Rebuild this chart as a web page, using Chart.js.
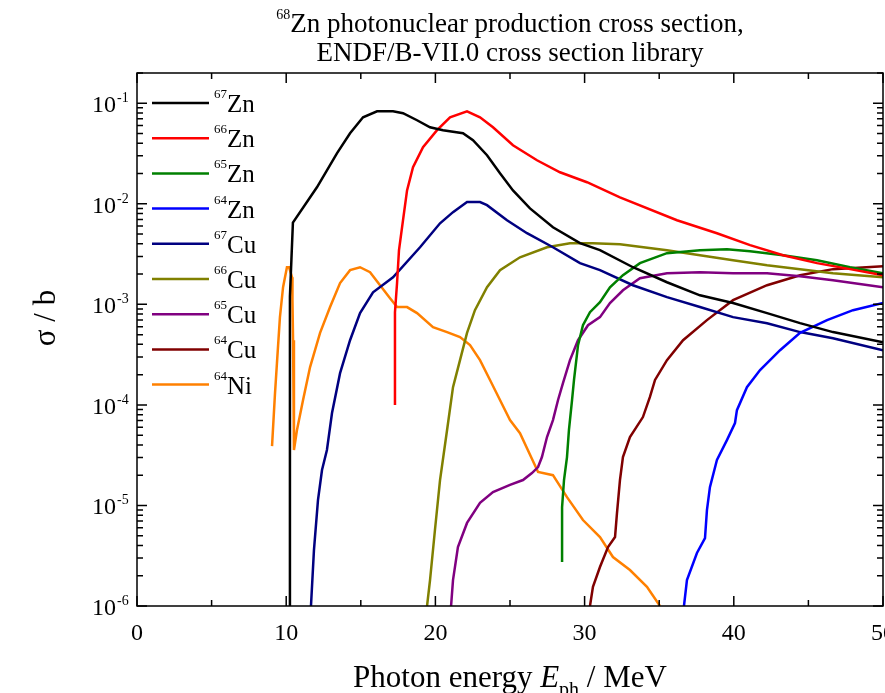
<!DOCTYPE html>
<html>
<head>
<meta charset="utf-8">
<title>68Zn photonuclear production cross section</title>
<script src="https://cdn.jsdelivr.net/npm/chart.js@4.4.0/dist/chart.umd.min.js"></script>
<style>
  html, body { margin: 0; padding: 0; background: #fff; overflow: hidden; }
</style>
</head>
<body>
<canvas id="xsChart" width="885" height="693"></canvas>
<script>
// photon energy (MeV) and cross section (b)
const zn67E = [10.2, 10.25, 10.35, 10.45, 12.06, 13.40, 14.28, 15.15, 16.09, 17.16, 17.83, 18.77, 19.64, 20.51, 21.85, 22.52, 23.46, 24.33, 25.20, 26.34, 27.88, 29.69, 31.03, 33.24, 35.52, 37.73, 39.95, 42.23, 44.44, 46.65, 50.0];
const zn67S = [1e-6, 1.2e-3, 2.8e-3, 6.5e-3, 0.0146, 0.0318, 0.0503, 0.0726, 0.0832, 0.0832, 0.0796, 0.0678, 0.0577, 0.0539, 0.0503, 0.0429, 0.0304, 0.0201, 0.0136, 9.0e-3, 5.85e-3, 4.06e-3, 3.46e-3, 2.34e-3, 1.66e-3, 1.23e-3, 1.03e-3, 8.18e-4, 6.5e-4, 5.3e-4, 4.2e-4];

const zn66E = [17.29, 17.29, 17.43, 17.56, 17.83, 18.10, 18.50, 19.17, 20.11, 20.98, 22.12, 22.99, 23.86, 25.20, 26.81, 28.35, 30.16, 32.37, 36.19, 38.87, 41.09, 43.30, 45.58, 47.79, 50.0];
const zn66S = [1e-4, 8.35e-4, 1.63e-3, 3.47e-3, 6.87e-3, 0.0136, 0.0231, 0.0366, 0.054, 0.0726, 0.0832, 0.0726, 0.0577, 0.0382, 0.0271, 0.0206, 0.0164, 0.0116, 6.87e-3, 5.1e-3, 3.88e-3, 3.08e-3, 2.57e-3, 2.24e-3, 1.95e-3];

const zn65E = [28.49, 28.49, 28.62, 28.82, 28.95, 29.16, 29.29, 29.56, 29.89, 30.36, 31.03, 31.70, 32.57, 33.71, 35.52, 37.73, 39.54, 41.09, 43.30, 45.58, 47.79, 50.0];
const zn65S = [2.74e-6, 9.6e-6, 1.79e-5, 3.03e-5, 5.6e-5, 1.12e-4, 1.77e-4, 3.93e-4, 6.2e-4, 8.35e-4, 1.05e-3, 1.48e-3, 1.95e-3, 2.57e-3, 3.23e-3, 3.46e-3, 3.54e-3, 3.38e-3, 3.08e-3, 2.75e-3, 2.34e-3, 2.04e-3];

const zn64E = [36.66, 36.86, 37.53, 38.07, 38.20, 38.40, 38.87, 39.54, 40.08, 40.21, 40.88, 41.76, 43.10, 44.44, 46.25, 47.99, 50.0];
const zn64S = [1e-6, 1.81e-6, 3.37e-6, 4.74e-6, 9e-6, 1.52e-5, 2.83e-5, 4.47e-5, 6.6e-5, 8.87e-5, 1.5e-4, 2.22e-4, 3.5e-4, 5.2e-4, 6.97e-4, 8.75e-4, 1.03e-3];

const cu67E = [11.66, 11.86, 12.13, 12.40, 12.73, 13.07, 13.61, 14.28, 14.95, 15.82, 17.16, 18.97, 20.31, 21.18, 22.12, 22.99, 23.46, 24.80, 26.14, 27.88, 29.69, 31.03, 33.24, 35.52, 37.73, 39.95, 42.23, 44.44, 46.65, 50.0];
const cu67S = [1e-6, 3.6e-6, 1.13e-5, 2.25e-5, 3.56e-5, 8.3e-5, 2.07e-4, 4.4e-4, 8.18e-4, 1.32e-3, 1.86e-3, 3.7e-3, 6.4e-3, 8.26e-3, 0.0104, 0.0104, 9.7e-3, 6.87e-3, 5.1e-3, 3.7e-3, 2.57e-3, 2.19e-3, 1.55e-3, 1.18e-3, 9.4e-4, 7.46e-4, 6.5e-4, 5.3e-4, 4.6e-4, 3.5e-4];

const cu66E = [19.44, 19.64, 19.97, 20.31, 20.78, 21.18, 21.65, 22.12, 22.65, 23.46, 24.33, 25.67, 27.48, 29.02, 30.56, 32.37, 35.52, 37.73, 39.95, 42.23, 44.44, 46.65, 50.0];
const cu66S = [1e-6, 1.81e-6, 5.7e-6, 1.79e-5, 5.6e-5, 1.5e-4, 2.79e-4, 5.2e-4, 8.75e-4, 1.48e-3, 2.19e-3, 2.94e-3, 3.7e-3, 4.06e-3, 4.06e-3, 3.96e-3, 3.46e-3, 3.08e-3, 2.75e-3, 2.45e-3, 2.24e-3, 2.04e-3, 1.86e-3];

const cu65E = [21.05, 21.18, 21.51, 22.12, 22.99, 23.86, 25.00, 25.87, 26.47, 26.88, 27.14, 27.48, 27.88, 28.22, 28.55, 29.02, 29.56, 30.23, 31.03, 31.70, 32.57, 33.71, 35.52, 37.73, 39.95, 42.23, 44.44, 46.65, 50.0];
const cu65S = [1e-6, 1.81e-6, 3.85e-6, 6.7e-6, 1.06e-5, 1.36e-5, 1.6e-5, 1.79e-5, 2.1e-5, 2.41e-5, 3.03e-5, 4.79e-5, 7.06e-5, 1.12e-4, 1.65e-4, 2.79e-4, 4.4e-4, 6.2e-4, 7.46e-4, 1.03e-3, 1.38e-3, 1.82e-3, 2.04e-3, 2.09e-3, 2.04e-3, 2.04e-3, 1.9e-3, 1.74e-3, 1.48e-3];

const cu64E = [30.36, 30.56, 31.03, 31.57, 32.04, 32.17, 32.37, 32.57, 33.04, 33.91, 34.38, 34.72, 35.52, 36.60, 38.20, 39.95, 42.23, 44.44, 46.65, 50.0];
const cu64S = [1e-6, 1.55e-6, 2.44e-6, 3.86e-6, 4.85e-6, 8.4e-6, 1.79e-5, 3.03e-5, 4.79e-5, 7.57e-5, 1.2e-4, 1.77e-4, 2.79e-4, 4.4e-4, 6.97e-4, 1.1e-3, 1.55e-3, 1.95e-3, 2.24e-3, 2.4e-3];

const ni64E = [9.05, 9.25, 9.38, 9.58, 9.79, 10.05, 10.19, 10.39, 10.42, 10.46, 10.52, 10.72, 11.13, 11.60, 12.27, 12.94, 13.61, 14.28, 14.95, 15.62, 16.29, 16.96, 17.43, 18.10, 18.77, 19.84, 20.78, 21.65, 22.32, 22.99, 23.66, 25.00, 25.67, 26.88, 27.88, 28.82, 29.89, 31.03, 31.90, 33.04, 34.18, 35.05];
const ni64S = [3.89e-5, 1.31e-4, 2.6e-4, 7.46e-4, 1.48e-3, 2.34e-3, 2.34e-3, 1.86e-3, 1.1e-3, 4.4e-4, 3.56e-5, 5.6e-5, 1.12e-4, 2.38e-4, 5.2e-4, 9.4e-4, 1.63e-3, 2.19e-3, 2.34e-3, 2.09e-3, 1.55e-3, 1.15e-3, 9.4e-4, 9.4e-4, 8.18e-4, 5.93e-4, 5.3e-4, 4.72e-4, 3.93e-4, 2.79e-4, 1.77e-4, 7.06e-5, 5.24e-5, 2.15e-5, 2.0e-5, 1.21e-5, 7.16e-6, 4.85e-6, 3.07e-6, 2.28e-6, 1.55e-6, 1e-6];

// legend entries
const massNumbers = ['67', '66', '65', '64', '67', '66', '65', '64', '64'];
const elements = ['Zn', 'Zn', 'Zn', 'Zn', 'Cu', 'Cu', 'Cu', 'Cu', 'Ni'];
const colors = ['#000000', '#ff0000', '#008000', '#0000ff', '#000080', '#808000', '#800080', '#800000', '#ff8000'];
const energies = [zn67E, zn66E, zn65E, zn64E, cu67E, cu66E, cu65E, cu64E, ni64E];
const sigmas = [zn67S, zn66S, zn65S, zn64S, cu67S, cu66S, cu65S, cu64S, ni64S];

// axis ticks
const xMajor = [0, 10, 20, 30, 40, 50];
const xMinor = [5, 15, 25, 35, 45];
const yPowers = [-6, -5, -4, -3, -2, -1];

const serif = "'Liberation Serif', 'Times New Roman', serif";

function drawTicks(chart) {
  const ctx = chart.ctx;
  const { left, right, top, bottom } = chart.chartArea;
  const xs = chart.scales.x;
  const ys = chart.scales.y;

  ctx.strokeStyle = '#000';
  ctx.lineWidth = 1.5;
  ctx.strokeRect(left, top, right - left, bottom - top);

  ctx.beginPath();
  xMajor.forEach(v => {
    const px = xs.getPixelForValue(v);
    ctx.moveTo(px, bottom); ctx.lineTo(px, bottom - 10);
    ctx.moveTo(px, top); ctx.lineTo(px, top + 10);
  });
  xMinor.forEach(v => {
    const px = xs.getPixelForValue(v);
    ctx.moveTo(px, bottom); ctx.lineTo(px, bottom - 6);
    ctx.moveTo(px, top); ctx.lineTo(px, top + 6);
  });
  yPowers.forEach(p => {
    const py = ys.getPixelForValue(Math.pow(10, p));
    ctx.moveTo(left, py); ctx.lineTo(left + 10, py);
    ctx.moveTo(right, py); ctx.lineTo(right - 10, py);
    for (let m = 2; m <= 9; m++) {
      const v = m * Math.pow(10, p);
      if (v > ys.max) break;
      const pm = ys.getPixelForValue(v);
      ctx.moveTo(left, pm); ctx.lineTo(left + 6, pm);
      ctx.moveTo(right, pm); ctx.lineTo(right - 6, pm);
    }
  });
  ctx.stroke();

  ctx.fillStyle = '#000';
  ctx.textBaseline = 'alphabetic';
  ctx.font = `24px ${serif}`;
  ctx.textAlign = 'center';
  xMajor.forEach(v => {
    ctx.fillText(String(v), xs.getPixelForValue(v), 640);
  });

  yPowers.forEach(p => {
    const py = ys.getPixelForValue(Math.pow(10, p));
    ctx.font = `24px ${serif}`;
    ctx.textAlign = 'right';
    ctx.fillText('10', 116, py + 9);
    ctx.font = `14px ${serif}`;
    ctx.textAlign = 'left';
    ctx.fillText(String(p), 117, py - 1);
  });
}

function drawLegend(chart) {
  const ctx = chart.ctx;
  const top = chart.chartArea.top;
  chart.data.datasets.forEach((ds, i) => {
    const y = top + 30 + i * 35.2;
    ctx.strokeStyle = ds.borderColor;
    ctx.lineWidth = 2.5;
    ctx.beginPath();
    ctx.moveTo(152, y);
    ctx.lineTo(209, y);
    ctx.stroke();
    ctx.fillStyle = '#000';
    ctx.textAlign = 'left';
    ctx.font = `13px ${serif}`;
    ctx.fillText(massNumbers[i], 214, y - 5);
    const w = ctx.measureText(massNumbers[i]).width;
    ctx.font = `25px ${serif}`;
    ctx.fillText(elements[i], 214 + w, y + 9);
  });
}

function drawTitles(chart) {
  const ctx = chart.ctx;
  const { left, right, top, bottom } = chart.chartArea;
  const cx = (left + right) / 2;
  ctx.fillStyle = '#000';
  ctx.textAlign = 'left';

  // title, line 1 with superscript mass number
  const sup = '68';
  const rest = 'Zn photonuclear production cross section,';
  ctx.font = `14px ${serif}`;
  const ws = ctx.measureText(sup).width;
  ctx.font = `27px ${serif}`;
  const wr = ctx.measureText(rest).width;
  let x0 = cx - (ws + wr) / 2;
  ctx.font = `14px ${serif}`;
  ctx.fillText(sup, x0, 19);
  ctx.font = `27px ${serif}`;
  ctx.fillText(rest, x0 + ws, 32);
  ctx.textAlign = 'center';
  ctx.fillText('ENDF/B-VII.0 cross section library', cx, 61);

  // x axis title: Photon energy E_ph / MeV
  const parts = [
    { t: 'Photon energy ', f: `31px ${serif}`, dy: 0 },
    { t: 'E', f: `italic 31px ${serif}`, dy: 0 },
    { t: 'ph', f: `20px ${serif}`, dy: 9 },
    { t: ' / MeV', f: `31px ${serif}`, dy: 0 }
  ];
  let total = 0;
  parts.forEach(p => { ctx.font = p.f; p.w = ctx.measureText(p.t).width; total += p.w; });
  let x = cx - total / 2;
  ctx.textAlign = 'left';
  parts.forEach(p => {
    ctx.font = p.f;
    ctx.fillText(p.t, x, 687 + p.dy);
    x += p.w;
  });

  // y axis title
  ctx.save();
  ctx.translate(55, 318);
  ctx.rotate(-Math.PI / 2);
  ctx.textAlign = 'center';
  ctx.font = `31px ${serif}`;
  ctx.fillText('\u03c3 / b', 0, 0);
  ctx.restore();
}

const decorations = {
  id: 'decorations',
  afterDraw(chart) {
    const ctx = chart.ctx;
    ctx.save();
    drawTicks(chart);
    drawLegend(chart);
    drawTitles(chart);
    ctx.restore();
  }
};

const datasets = energies.map((xs, i) => ({
  label: massNumbers[i] + elements[i],
  data: xs.map((e, j) => ({ x: e, y: sigmas[i][j] })),
  borderColor: colors[i],
  backgroundColor: colors[i],
  borderWidth: 2.5,
  pointRadius: 0,
  tension: 0,
  fill: false
}));

new Chart(document.getElementById('xsChart').getContext('2d'), {
  type: 'line',
  data: { datasets: datasets },
  options: {
    responsive: false,
    animation: false,
    layout: { padding: { left: 137, right: 2, top: 73, bottom: 87 } },
    plugins: {
      legend: { display: false },
      title: { display: false },
      tooltip: { enabled: false }
    },
    scales: {
      x: { type: 'linear', min: 0, max: 50, display: false },
      y: { type: 'logarithmic', min: 1e-6, max: 0.2, display: false }
    }
  },
  plugins: [decorations]
});
</script>
</body>
</html>
